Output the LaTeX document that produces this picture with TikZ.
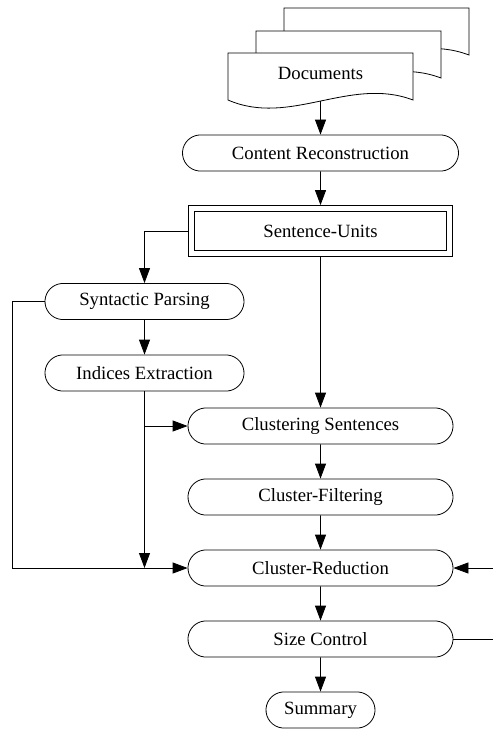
\documentclass[tikz,border=0pt]{standalone}
\usepackage{fontspec}
\setmainfont{Liberation Serif}
\usepackage{tikz}
\usetikzlibrary{
    shapes.misc, arrows.meta, positioning, calc
}
\tikzset{
    flow/.style={draw, line width=0.8pt},
    pill/.style={flow, rounded rectangle, rounded rectangle arc length=170,
        minimum height=36pt, inner sep=0pt, font=\fontsize{18.7}{22}\selectfont},
    unitbox/.style={flow, double, double distance=5.2pt, rectangle,
        minimum width=257.8pt, minimum height=45pt, inner sep=0pt, outer sep=3.4pt,
        font=\fontsize{18.7}{22}\selectfont},
    link/.style={line width=0.8pt, -{Triangle[length=15pt,width=11pt]}}
}
% one sheet of the stacked documents symbol, shifted by (#1,#2)
\newcommand{\DocSheet}[2]{
    \draw[flow, fill=white, shift={(#1,#2)}] (228,53) -- (413,53) -- (413,100)
        .. controls (350,76) and (290,127) .. (228,100) -- cycle;
}

\begin{document}
\begin{tikzpicture}[x=1pt, y=-1pt]
    \useasboundingbox (0,0) rectangle (493,729);

    % Documents stack
    \DocSheet{56}{-45}
    \DocSheet{28}{-22}
    \DocSheet{0}{0}
    \node[font=\fontsize{18.7}{22}\selectfont] (docs) at (320.5,73) {Documents};
    \coordinate (docbot) at (320.5,101);

    % Main column
    \node[pill, minimum width=276pt] (recon) at (320.5,153) {Content Reconstruction};
    \node[unitbox] (units) at (320.5,231) {Sentence-Units};
    \node[pill, minimum width=199pt] (sp) at (144.5,301.5) {Syntactic Parsing};
    \node[pill, minimum width=199pt] (ie) at (144.5,373) {Indices Extraction};
    \node[pill, minimum width=265pt] (cs) at (320.5,426) {Clustering Sentences};
    \node[pill, minimum width=265pt] (cf) at (320.5,497) {Cluster-Filtering};
    \node[pill, minimum width=265pt] (cr) at (320.5,568) {Cluster-Reduction};
    \node[pill, minimum width=265pt] (sc) at (320.5,639) {Size Control};
    \node[pill, minimum width=109pt] (sum) at (320.5,710) {Summary};

    % Open ends at the right border
    \coordinate (crin) at (493,568);
    \coordinate (scout) at (493,639);

    % Connectors
    \draw[link] (docbot) -- (recon);
    \draw[link] (recon) -- (units);
    \draw[link] (units.west) -| (sp.north);
    \draw[link] (units) -- (cs);
    \draw[link] (sp) -- (ie);
    \draw[link] (ie.south) -- (ie.south |- cr.west);
    \draw[link] (ie.south |- cs.west) -- (cs.west);
    \draw[link] (sp.west) -- ++(-32,0) |- (cr.west);
    \draw[link] (cs) -- (cf);
    \draw[link] (cf) -- (cr);
    \draw[link] (cr) -- (sc);
    \draw[link] (sc) -- (sum);
    \draw[link] (crin) -- (cr.east);
    \draw[flow] (sc.east) -- (scout);
\end{tikzpicture}
\end{document}
